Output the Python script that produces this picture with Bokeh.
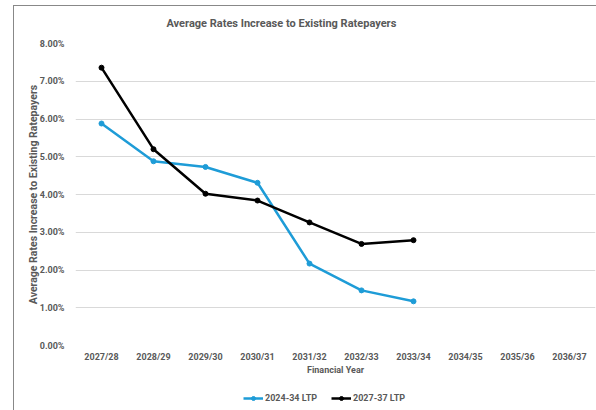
from bokeh.plotting import figure
from bokeh.layouts import column
from bokeh.models import FactorRange, Range1d, NumeralTickFormatter, FixedTicker, Legend, LegendItem
from bokeh.embed import file_html
from bokeh.resources import INLINE

years = ["2027/28", "2028/29", "2029/30", "2030/31", "2031/32", "2032/33",
         "2033/34", "2034/35", "2035/36", "2036/37"]
ltp_2024_years = ["2027/28", "2028/29", "2029/30", "2030/31", "2031/32", "2032/33", "2033/34"]
ltp_2024 = [0.0588, 0.0488, 0.0473, 0.0431, 0.0217, 0.0146, 0.0117]
ltp_2027_years = ["2027/28", "2028/29", "2029/30", "2030/31", "2031/32", "2032/33", "2033/34"]
ltp_2027 = [0.0736, 0.0520, 0.0402, 0.0384, 0.0326, 0.0269, 0.0279]
y_ticks = [0.0, 0.01, 0.02, 0.03, 0.04, 0.05, 0.06, 0.07, 0.08]
series_names = ["2024-34 LTP", "2027-37 LTP"]

FONT = "Roboto"
GRAY = "#595959"
BLUE = "#1e9cd7"
EDGE = "#888888"

p = figure(x_range=FactorRange(*years), y_range=Range1d(0, 0.08),
           width=596, height=385, output_backend="svg", toolbar_location=None,
           min_border_left=75, min_border_right=1, min_border_top=42, min_border_bottom=40)
p.x_range.range_padding = 0
p.border_fill_color = None
p.styles = {"background": f"linear-gradient({EDGE},{EDGE}) 13px 5px / 1px 380px no-repeat, "
                          f"linear-gradient({EDGE},{EDGE}) 13px 5px / 583px 1px no-repeat, white"}

p.title.text = "Average Rates Increase to Existing Ratepayers"
p.title.align = "left"
p.title.offset = 91
p.title.standoff = 28
p.title.text_font = FONT
p.title.text_font_size = "11px"
p.title.text_color = GRAY
p.title.text_font_style = "bold"

p.outline_line_color = None
p.xgrid.grid_line_color = None
p.ygrid.grid_line_color = "#d9d9d9"
p.ygrid.grid_line_width = 1

p.yaxis.ticker = FixedTicker(ticks=y_ticks)
p.yaxis.formatter = NumeralTickFormatter(format="0.00%")
p.yaxis.axis_label = "Average Rates Increase to Existing Ratepayers"
p.xaxis.axis_label = "Financial Year"
for ax in (p.xaxis, p.yaxis):
    ax.axis_line_color = None
    ax.major_tick_line_color = None
    ax.minor_tick_line_color = None
    ax.major_label_text_font = FONT
    ax.major_label_text_font_size = "9px"
    ax.major_label_text_font_style = "bold"
    ax.major_label_text_color = GRAY
    ax.axis_label_text_font = FONT
    ax.axis_label_text_font_size = "9px"
    ax.axis_label_text_font_style = "bold"
    ax.axis_label_text_color = GRAY
p.yaxis.major_label_standoff = 5
p.yaxis.axis_label_standoff = -3
p.xaxis.major_label_standoff = 0
p.xaxis.axis_label_standoff = 0
p.yaxis.axis_label_text_font_size = "10.5px"

p.line(ltp_2024_years, ltp_2024, line_color=BLUE, line_width=2.5)
p.scatter(ltp_2024_years, ltp_2024, marker="circle", size=5, fill_color=BLUE, line_color=BLUE)
p.line(ltp_2027_years, ltp_2027, line_color="black", line_width=2.5)
p.scatter(ltp_2027_years, ltp_2027, marker="circle", size=5, fill_color="black", line_color="black")

# legend strip below the chart (its proxy glyphs lie outside the visible range)
lg = figure(width=596, height=25, output_backend="svg", toolbar_location=None,
            x_range=Range1d(0, 1), y_range=Range1d(0, 1),
            min_border_left=75, min_border_right=1, min_border_top=0, min_border_bottom=0)
lg.axis.visible = False
lg.grid.grid_line_color = None
lg.outline_line_color = None
lg.border_fill_color = None
lg.background_fill_color = None
lg.styles = {"background": f"linear-gradient({EDGE},{EDGE}) 13px 0px / 1px 25px no-repeat, white"}

items = []
for name, color in zip(series_names, [BLUE, "black"]):
    rl = lg.line([5, 6], [5, 5], line_color=color, line_width=2.5)
    rs = lg.scatter([5], [5], marker="circle", size=5, fill_color=color, line_color=color)
    items.append(LegendItem(label=name, renderers=[rl, rs]))

legend = Legend(items=items, orientation="horizontal", location=(168, 7))
legend.label_text_font = FONT
legend.label_text_font_size = "9px"
legend.label_text_font_style = "bold"
legend.label_text_color = GRAY
legend.border_line_color = None
legend.background_fill_alpha = 0
legend.glyph_width = 20
legend.glyph_height = 10
legend.label_height = 10
legend.label_standoff = 2
legend.spacing = 14
legend.padding = 0
legend.margin = 0
lg.add_layout(legend)

layout = column(p, lg, spacing=0)
open("out.html", "w").write(file_html(layout, INLINE))
